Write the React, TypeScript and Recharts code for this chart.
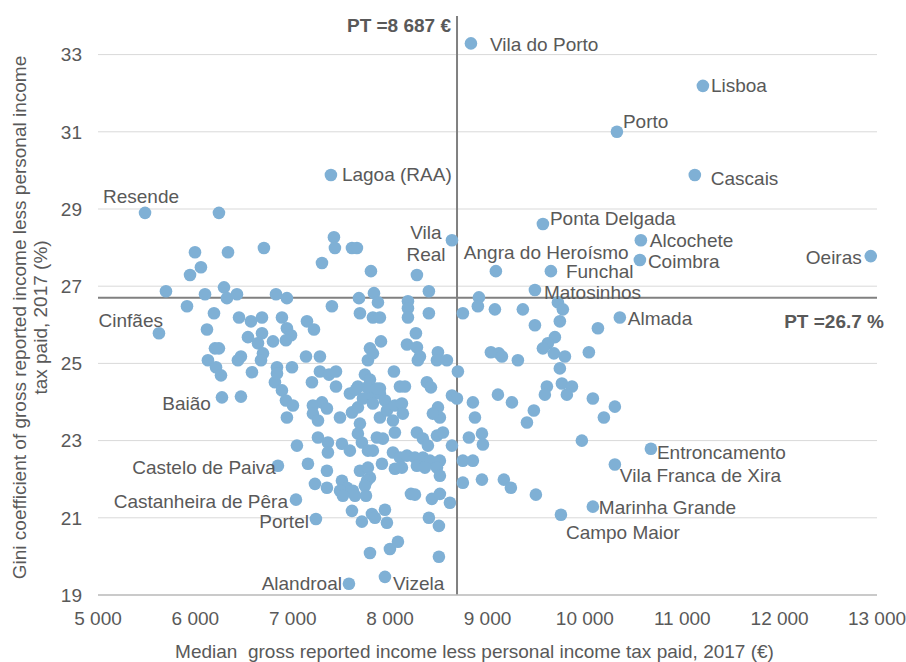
import type { JSX } from "react";

import { CartesianGrid, Label, ReferenceLine, Scatter, ScatterChart, XAxis, YAxis } from "recharts";

// Municipalities named on the chart
const labelledNames = [
	"Vila do Porto", "Lisboa", "Porto", "Cascais", "Lagoa (RAA)", "Resende", "Vila Real", "Ponta Delgada", "Alcochete",
	"Coimbra", "Oeiras", "Angra do Heroísmo", "Funchal", "Matosinhos", "Almada", "Cinfães", "Baião", "Castelo de Paiva",
	"Castanheira de Pêra", "Portel", "Alandroal", "Vizela", "Entroncamento", "Vila Franca de Xira", "Marinha Grande", "Campo Maior",
];
const labelledIncome = [
	8830, 11212, 10329, 11129, 7392, 5483, 8635, 9569, 10575, 10565, 12936, 9086, 9651, 9487, 10359, 5626, 6273, 6848, 7033, 7238,
	7577, 7947, 10678, 10308, 10082, 9754,
];
const labelledGini = [
	33.29, 32.19, 31.0, 29.88, 29.88, 28.9, 28.19, 28.61, 28.19, 27.68, 27.78, 27.39, 27.39, 26.9, 26.19, 25.78, 24.12, 22.35, 21.47,
	20.97, 19.29, 19.47, 22.79, 22.38, 21.29, 21.08,
];

// All the other municipalities
const otherIncome = [
	6242, 7423, 7433, 5996, 6335, 6704, 7608, 7659, 6057, 5945, 7300, 7803, 8275, 5698, 6294, 8398,
	6099, 6324, 6427, 6828, 6940, 7402, 7680, 7834, 7875, 8183, 8183, 8183, 8398, 8747, 8912, 8901, 9076, 9363, 9723, 9774, 9743, 9487, 10134,
	5914, 6191, 6448, 6571, 6684, 6119, 6540, 6684, 6643, 6694, 6797, 6201, 6242, 6468, 6437, 6129, 6212, 6263, 6674, 6581, 6838, 6817,
	6889, 6940, 6982, 6930, 6838, 6889, 6992, 6468,
	7690, 7823, 7895, 8265, 7146, 7218, 8173, 8275, 8306, 8285, 7906, 7793, 7772, 7823, 7136, 7279, 8491, 8481, 8583, 7279, 7372, 7444,
	7741, 7793, 8039, 8696, 7197, 7444, 7669, 7895, 8101, 8152, 8378, 8419,
	6930, 7002, 6940, 7207, 7300, 7351, 7207, 7259, 7485, 7608, 7669, 7721, 7813, 7895, 7947, 7823, 7690, 7669, 7710, 7895, 7967, 8049,
	8121, 8131, 8029, 8049, 7926, 7864, 7587, 7649, 7762, 7864, 8275, 8337, 8388, 8481, 8542, 8511, 8491, 8439, 8635, 8686, 8635, 7043,
	7259, 7361, 7361, 7505, 7587,
	7772, 7823, 7916, 8029, 8101, 8173, 8255, 8337, 8409, 8511, 8481, 8511, 8049, 8121, 8275, 8357, 7156, 7351, 7690, 7772, 7793, 7762,
	7741, 7228, 7351, 7505, 7556, 7618, 7485, 7515, 7639, 7752, 8214, 8255, 8429, 8511, 8614, 8747, 8747,
	7608, 7710, 7813, 7844, 7947, 7967, 8398, 8501, 7793, 7998, 8080, 8501,
	9692, 9620, 9569, 9682, 9795, 9035, 9117, 9148, 9312, 10041, 9743, 9610, 9764, 9867, 9815, 9589, 9107, 9251, 8850, 8871, 9476, 9405,
	10082, 10308, 10195, 8809, 8943, 8953, 9969, 8850, 8943, 9168, 9240, 9497,
];
const otherGini = [
	28.9, 28.27, 27.99, 27.88, 27.88, 27.99, 27.99, 27.99, 27.49, 27.29, 27.6, 27.39, 27.29, 26.87, 26.97, 26.87,
	26.79, 26.69, 26.79, 26.79, 26.69, 26.48, 26.69, 26.82, 26.58, 26.61, 26.43, 26.19, 26.3, 26.3, 26.71, 26.48, 26.4, 26.4, 26.58, 26.4, 26.09, 25.99, 25.91,
	26.48, 26.3, 26.19, 26.09, 26.19, 25.88, 25.68, 25.78, 25.52, 25.26, 25.57, 25.39, 25.39, 25.18, 25.08, 25.08, 24.9, 24.69, 25.08, 24.77, 24.9, 24.51,
	26.19, 25.91, 25.73, 25.6, 24.74, 24.3, 24.9, 24.14,
	26.3, 26.19, 26.19, 25.78, 26.09, 25.88, 25.49, 25.42, 25.18, 25.08, 25.57, 25.39, 25.08, 25.26, 25.18, 25.18, 25.29, 25.08, 25.08, 24.79, 24.71, 24.79,
	24.71, 24.58, 24.79, 24.79, 24.51, 24.4, 24.4, 24.35, 24.4, 24.4, 24.51, 24.38,
	24.04, 23.91, 23.6, 23.91, 23.99, 23.83, 23.7, 23.52, 23.6, 23.73, 23.86, 24.09, 24.17, 24.22, 24.04, 23.96, 23.44, 23.18, 22.95, 23.6, 23.78, 23.91,
	23.96, 23.7, 23.52, 23.21, 23.05, 23.08, 24.22, 24.32, 24.38, 24.35, 23.21, 23.05, 22.87, 23.13, 23.21, 23.6, 23.86, 23.7, 24.17, 24.09, 22.87, 22.87,
	23.08, 22.95, 22.69, 22.92, 22.74,
	22.74, 22.74, 22.4, 22.69, 22.56, 22.61, 22.56, 22.56, 22.48, 22.48, 22.3, 22.09, 22.27, 22.3, 22.35, 22.3, 22.4, 22.22, 22.22, 22.3, 22.04, 21.96,
	21.83, 21.88, 21.78, 21.96, 21.78, 21.7, 21.7, 21.57, 21.57, 21.57, 21.62, 21.6, 21.49, 21.62, 21.39, 22.48, 21.91,
	21.18, 20.9, 21.1, 21.0, 21.21, 20.87, 21.0, 20.79, 20.09, 20.19, 20.38, 19.99,
	25.68, 25.52, 25.39, 25.26, 25.18, 25.29, 25.26, 25.18, 25.08, 25.29, 24.87, 24.4, 24.48, 24.4, 24.19, 24.19, 24.19, 23.99, 23.99, 23.6, 23.78, 23.47,
	24.09, 23.88, 23.6, 23.08, 23.18, 22.9, 23.0, 22.48, 21.99, 21.99, 21.78, 21.6,
];

const xTicks = [5000, 6000, 7000, 8000, 9000, 10000, 11000, 12000, 13000];
const yTicks = [19, 21, 23, 25, 27, 29, 31, 33];
const ptIncome = 8687;
const ptGini = 26.7;

const FONT = '"Liberation Sans", Arial, sans-serif';
const FS = 19;
const TEXT = "#595959";
const DOT = "#7fb0d5";
const RADIUS = 6.3;

// where each name sits relative to its dot
const labelPlacement: Record<string, { dx: number; dy: number; anchor: "start" | "middle" | "end"; wrap?: boolean }> = {
	"Vila do Porto": { anchor: "start", dx: 19, dy: 7.5 },
	Lisboa: { anchor: "start", dx: 8, dy: 6.5 },
	Porto: { anchor: "start", dx: 6, dy: -4 },
	Cascais: { anchor: "start", dx: 16, dy: 9.5 },
	"Lagoa (RAA)": { anchor: "start", dx: 11, dy: 5.5 },
	Resende: { anchor: "middle", dx: -4, dy: -9.5 },
	"Vila Real": { anchor: "middle", dx: -26, dy: -1.5, wrap: true },
	"Ponta Delgada": { anchor: "start", dx: 7, dy: 0.5 },
	Alcochete: { anchor: "start", dx: 9, dy: 6.5 },
	Coimbra: { anchor: "start", dx: 8, dy: 8.5 },
	Oeiras: { anchor: "end", dx: -9, dy: 7.5 },
	"Angra do Heroísmo": { anchor: "start", dx: -32, dy: -12.5 },
	Funchal: { anchor: "start", dx: 15, dy: 7 },
	Matosinhos: { anchor: "start", dx: 9, dy: 9 },
	Almada: { anchor: "start", dx: 8, dy: 7.5 },
	"Cinfães": { anchor: "end", dx: 4, dy: -6.5 },
	"Baião": { anchor: "end", dx: -11, dy: 12.5 },
	"Castelo de Paiva": { anchor: "end", dx: -2, dy: 8.5 },
	"Castanheira de Pêra": { anchor: "end", dx: -8, dy: 8.5 },
	Portel: { anchor: "end", dx: -7, dy: 9.5 },
	Alandroal: { anchor: "end", dx: -7, dy: 6.5 },
	Vizela: { anchor: "start", dx: 8, dy: 13.5 },
	Entroncamento: { anchor: "start", dx: 6, dy: 10.5 },
	"Vila Franca de Xira": { anchor: "start", dx: 5, dy: 17.5 },
	"Marinha Grande": { anchor: "start", dx: 6, dy: 7.5 },
	"Campo Maior": { anchor: "start", dx: 5, dy: 24.5 },
};

const otherData = otherIncome.map((income, i) => ({ gini: otherGini[i], income }));
const labelledData = labelledNames.map((name, i) => ({ gini: labelledGini[i], income: labelledIncome[i], name }));

const fmtThousands = (v: number) => String(v).replace(/\B(?=(\d{3})+(?!\d))/g, " ");

function PlainDot(props: any): JSX.Element {
	return <circle cx={props.cx} cy={props.cy} fill={DOT} r={RADIUS} />;
}

function NamedDot(props: any): JSX.Element {
	const { cx, cy, payload } = props;
	const p = labelPlacement[payload.name];
	const x = cx + p.dx;
	return (
		<g>
			<circle cx={cx} cy={cy} fill={DOT} r={RADIUS} />
			<text fill={TEXT} fontFamily={FONT} fontSize={FS} textAnchor={p.anchor} x={x} y={cy + p.dy}>
				{p.wrap
					? payload.name.split(" ").map((w: string, i: number) => (
							<tspan dy={i === 0 ? 0 : 22} key={w} x={x}>
								{w}
							</tspan>
						))
					: payload.name}
			</text>
		</g>
	);
}

// grid line renderer: no line along the top edge of the plot
function GridLine(props: any): JSX.Element | null {
	if (props.y1 <= props.y + 0.5) return null;
	return <line stroke="#d9d9d9" strokeWidth={1} x1={props.x1} x2={props.x2} y1={props.y1} y2={props.y2} />;
}

export default function App(): JSX.Element {
	return (
		<div style={{ background: "#fff", height: 662, left: 0, position: "fixed", top: 0, width: 906 }}>
			<ScatterChart height={662} margin={{ bottom: 0, left: 0, right: 29, top: 16 }} width={906}>
				<CartesianGrid horizontal={GridLine} horizontalValues={yTicks} stroke="#d9d9d9" vertical={false} />
				<XAxis
					axisLine={{ stroke: "#bfbfbf", strokeWidth: 1.5 }}
					dataKey="income"
					domain={[5000, 13000]}
					height={67}
					interval={0}
					tick={{ fill: TEXT, fontFamily: FONT, fontSize: FS }}
					tickFormatter={fmtThousands}
					tickLine={false}
					tickMargin={17}
					tickSize={0}
					ticks={xTicks}
					type="number"
				>
					<Label
						content={(p: any) => (
							<text fill={TEXT} fontFamily={FONT} fontSize={FS} textAnchor="middle" x={p.viewBox.x + p.viewBox.width / 2 - 13} y={p.viewBox.y + 63}>
								{"Median\u00a0 gross reported income less personal income tax paid, 2017 (€)"}
							</text>
						)}
					/>
				</XAxis>
				<YAxis
					axisLine={false}
					dataKey="gini"
					domain={[19, 34]}
					interval={0}
					tick={{ fill: TEXT, fontFamily: FONT, fontSize: FS }}
					tickLine={false}
					tickMargin={16}
					tickSize={0}
					ticks={yTicks}
					type="number"
					width={98}
				>
					<Label
						content={(p: any) => {
							const cy = p.viewBox.y + p.viewBox.height / 2 + 12;
							return (
								<g fill={TEXT} fontFamily={FONT} fontSize={FS}>
									<text dominantBaseline="central" textAnchor="middle" transform={`rotate(-90 19 ${cy})`} x={19} y={cy}>
										Gini coefficient of gross reported income less personal income
									</text>
									<text dominantBaseline="central" textAnchor="middle" transform={`rotate(-90 40 ${cy})`} x={40} y={cy}>
										tax paid, 2017 (%)
									</text>
								</g>
							);
						}}
					/>
				</YAxis>
				<Scatter data={otherData} isAnimationActive={false} shape={PlainDot} />
				<ReferenceLine
					label={(p: any) => (
						<text fill={TEXT} fontFamily={FONT} fontSize={FS} fontWeight="bold" textAnchor="end" x={p.viewBox.x - 6} y={p.viewBox.y + 16}>
							{"PT =8 687 €"}
						</text>
					)}
					stroke="#808080"
					strokeWidth={2}
					x={ptIncome}
				/>
				<ReferenceLine
					label={(p: any) => (
						<text fill={TEXT} fontFamily={FONT} fontSize={FS} fontWeight="bold" textAnchor="end" x={p.viewBox.x + p.viewBox.width + 7} y={p.viewBox.y + 30.5}>
							{"PT =26.7 %"}
						</text>
					)}
					stroke="#808080"
					strokeWidth={2}
					y={ptGini}
				/>
				<Scatter data={labelledData} isAnimationActive={false} shape={NamedDot} />
			</ScatterChart>
		</div>
	);
}
